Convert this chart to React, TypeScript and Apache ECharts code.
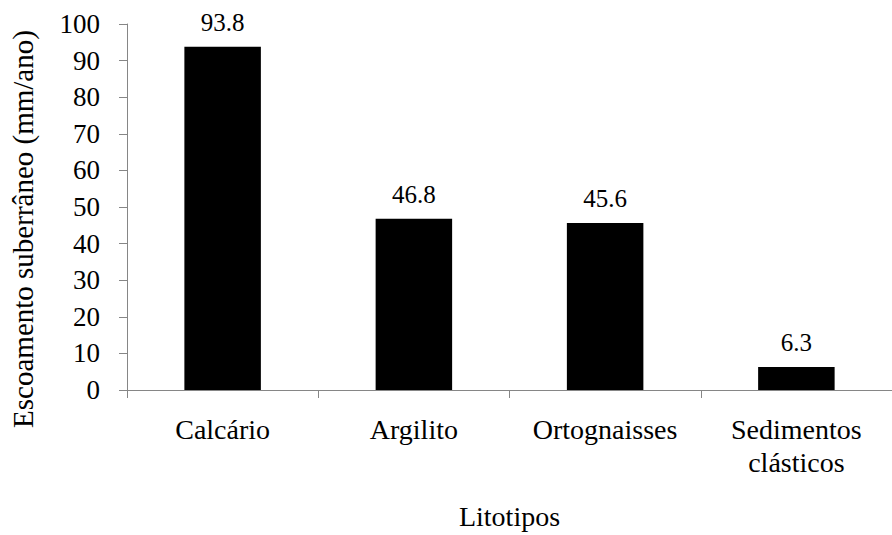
import React, { useEffect, useRef } from "react";
import * as echarts from "echarts";

const categories = ["Calcário", "Argilito", "Ortognaisses", "Sedimentos\nclásticos"];
const values = [93.8, 46.8, 45.6, 6.3];
const yTicks = { min: 0, max: 100, interval: 10 };
const yTitle = "Escoamento suberrâneo (mm/ano)";
const xTitle = "Litotipos";

const FONT = "Liberation Serif";
const AXIS_COLOR = "#868686";

export default function App() {
  const ref = useRef<HTMLDivElement>(null);
  useEffect(() => {
    if (!ref.current) return;
    const chart = echarts.init(ref.current, undefined, { renderer: "svg" });
    chart.setOption({
      animation: false,
      backgroundColor: "#ffffff",
      textStyle: { fontFamily: FONT },
      grid: { left: 127, top: 24, bottom: 145, right: -11, containLabel: false },
      graphic: [
        {
          type: "text",
          x: 23,
          y: 229,
          rotation: Math.PI / 2,
          style: {
            text: yTitle,
            fontFamily: FONT,
            fontSize: 29,
            fill: "#000",
            align: "center",
            verticalAlign: "middle",
          },
        },
      ],
      xAxis: {
        type: "category",
        data: categories,
        name: xTitle,
        nameLocation: "middle",
        nameGap: 112,
        nameTextStyle: { fontFamily: FONT, fontSize: 28, color: "#000" },
        axisLine: { lineStyle: { color: AXIS_COLOR, width: 1 } },
        axisTick: { show: true, length: 8, alignWithLabel: false, lineStyle: { color: AXIS_COLOR } },
        axisLabel: { fontFamily: FONT, fontSize: 28, color: "#000", margin: 23, lineHeight: 33, interval: 0 },
      },
      yAxis: {
        type: "value",
        min: yTicks.min,
        max: yTicks.max,
        interval: yTicks.interval,
        axisLine: { show: true, lineStyle: { color: AXIS_COLOR, width: 1 } },
        axisTick: { show: true, length: 8, lineStyle: { color: AXIS_COLOR } },
        splitLine: { show: false },
        axisLabel: { fontFamily: FONT, fontSize: 27, color: "#000", margin: 27 },
      },
      series: [
        {
          type: "bar",
          data: values,
          barCategoryGap: "60%",
          itemStyle: { color: "#000000" },
          label: {
            show: true,
            position: "top",
            distance: 12,
            fontFamily: FONT,
            fontSize: 25,
            color: "#000",
            formatter: (p: any) => p.value.toFixed(1),
          },
        },
      ],
    });
    return () => chart.dispose();
  }, []);
  return <div ref={ref} style={{ width: 892, height: 535, position: "absolute", left: 0, top: 0 }} />;
}
